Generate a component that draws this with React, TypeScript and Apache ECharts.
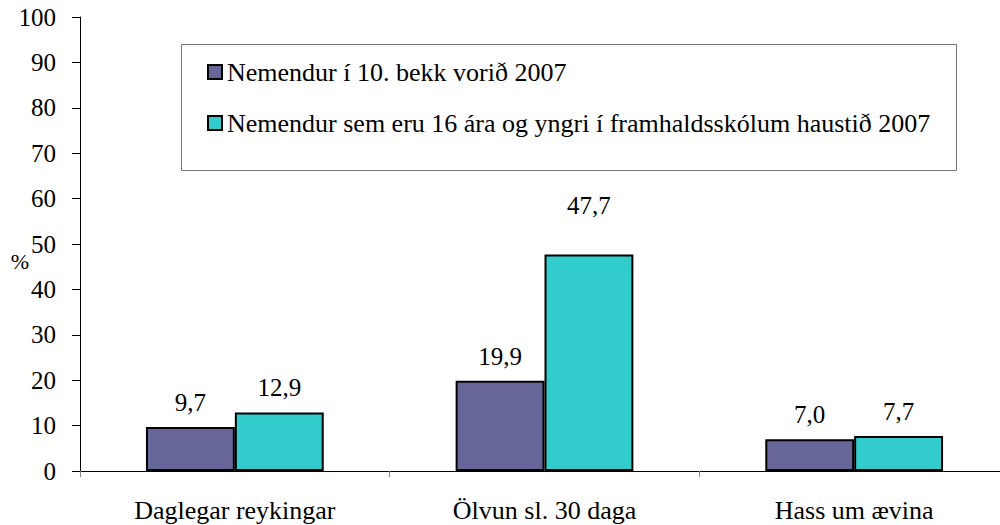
import React, { useEffect, useRef } from "react";
import * as echarts from "echarts";

const categories = ["Daglegar reykingar", "Ölvun sl. 30 daga", "Hass um ævina"];
const seriesNames = [
  "Nemendur í 10. bekk vorið 2007",
  "Nemendur sem eru 16 ára og yngri í framhaldsskólum haustið 2007",
];
const grade10 = [9.7, 19.9, 7.0];
const upperSecondary = [12.9, 47.7, 7.7];
const yTicks = { min: 0, max: 100, interval: 10 };

const FONT = "'Liberation Serif', 'Times New Roman', Times, serif";

export default function App() {
  const ref = useRef<HTMLDivElement>(null);
  useEffect(() => {
    if (!ref.current) return;
    const chart = echarts.init(ref.current, undefined, { renderer: "svg" });
    const fmt = (p: any) => Number(p.value).toFixed(1).replace(".", ",");
    const labelBase = {
      show: true,
      position: "top" as const,
      distance: 12,
      color: "#000",
      fontFamily: FONT,
      fontSize: 25,
      formatter: fmt,
    };
    chart.setOption({
      animation: false,
      backgroundColor: "#fff",
      textStyle: { fontFamily: FONT },
      grid: { left: 80, width: 929, top: 17, bottom: 54, containLabel: false, outerBoundsMode: "none" },
      xAxis: {
        type: "category",
        data: categories,
        axisLine: { lineStyle: { color: "#000", width: 1 } },
        axisTick: { show: true, length: 6, lineStyle: { color: "#888" }, alignWithLabel: false },
        axisLabel: { color: "#000", fontFamily: FONT, fontSize: 26, margin: 26 },
      },
      yAxis: {
        type: "value",
        min: yTicks.min,
        max: yTicks.max,
        interval: yTicks.interval,
        splitLine: { show: false },
        axisLine: { show: true, lineStyle: { color: "#000", width: 1 } },
        axisTick: { show: true, length: 8, lineStyle: { color: "#000" } },
        axisLabel: { color: "#000", fontFamily: FONT, fontSize: 25, margin: 24 },
      },
      legend: {
        orient: "vertical",
        left: 207,
        top: 59,
        padding: 0,
        icon: "rect",
        itemWidth: 14,
        itemHeight: 14,
        itemGap: 25,
        itemTextGap: 6,
        textStyle: { color: "#000", fontFamily: FONT, fontSize: 26, lineHeight: 26 },
        itemStyle: { borderColor: "#000", borderWidth: 2 },
        data: seriesNames,
      },
      graphic: [
        {
          type: "rect",
          z: -1,
          shape: { x: 181.5, y: 44.5, width: 775, height: 126 },
          style: { fill: "#fff", stroke: "#777", lineWidth: 1 },
        },
        {
          type: "text",
          x: 20,
          y: 261,
          style: {
            text: "%",
            fill: "#000",
            fontFamily: FONT,
            fontSize: 22,
            align: "center",
            verticalAlign: "middle",
          },
        },
      ],
      series: [
        {
          name: seriesNames[0],
          type: "bar",
          data: grade10,
          barGap: "0%",
          barCategoryGap: "42.6%",
          itemStyle: { color: "#666699", borderColor: "#000", borderWidth: 2 },
          label: labelBase,
        },
        {
          name: seriesNames[1],
          type: "bar",
          data: upperSecondary.map((v, i) => (i === 1 ? { value: v, label: { distance: 36 } } : v)),
          barGap: "0%",
          barCategoryGap: "42.6%",
          itemStyle: { color: "#33CCCC", borderColor: "#000", borderWidth: 2 },
          label: labelBase,
        },
      ],
    });
    return () => chart.dispose();
  }, []);
  return (
    <div
      ref={ref}
      style={{ position: "fixed", left: 0, top: 0, width: 1000, height: 525 }}
    />
  );
}
